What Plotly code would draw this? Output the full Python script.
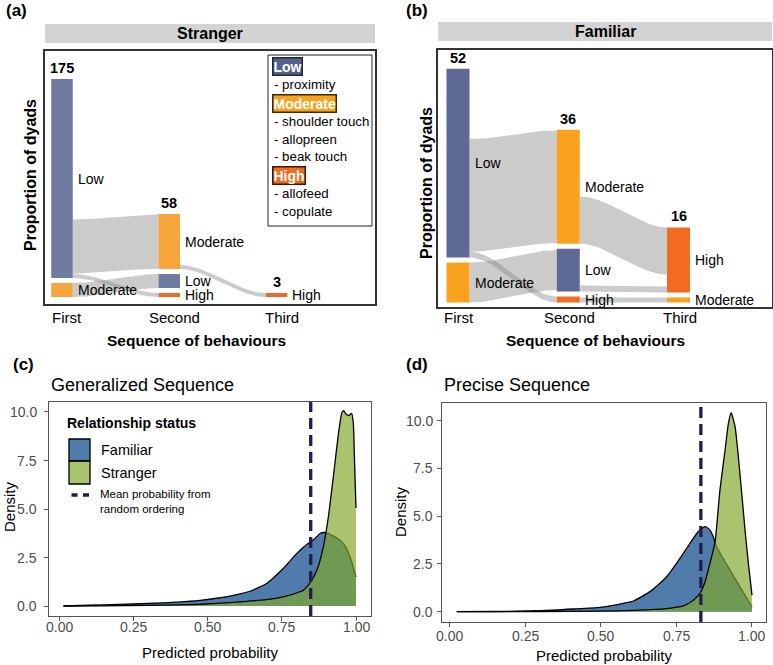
import numpy as np
import plotly.graph_objects as go

W, H = 773, 665
FONT = "Liberation Sans, Arial, sans-serif"

# ---------------- DATA ----------------
step_labels = ["First", "Second", "Third"]
x_title_alluvial = "Sequence of behaviours"
y_title_alluvial = "Proportion of dyads"

# Stranger alluvial (nodes listed bottom -> top within each step)
stranger_node_step = [1, 1, 2, 2, 2, 3]
stranger_node_level = ["Moderate", "Low", "High", "Low", "Moderate", "High"]
stranger_node_size = [12.3, 175.0, 3.5, 12.3, 48.4, 3.5]
stranger_flow_src = [1, 1, 0, 4]
stranger_flow_dst = [4, 2, 3, 5]
stranger_flow_size = [48.0, 3.5, 12.3, 3.5]
stranger_step_counts = ["175", "58", "3"]

# Familiar alluvial
familiar_node_step = [1, 1, 2, 2, 2, 3, 3]
familiar_node_level = ["Moderate", "Low", "High", "Low", "Moderate", "Moderate", "High"]
familiar_node_size = [11.0, 52.0, 1.65, 11.8, 31.4, 1.4, 17.9]
familiar_flow_src = [1, 1, 0, 4, 3, 2]
familiar_flow_dst = [4, 2, 3, 6, 6, 5]
familiar_flow_size = [31.0, 1.65, 11.0, 13.0, 1.65, 1.4]
familiar_step_counts = ["52", "36", "16"]

legend_levels = ["Low", "Moderate", "High"]
legend_behaviours = [["proximity"],
                     ["shoulder touch", "allopreen", "beak touch"],
                     ["allofeed", "copulate"]]

# Density curves - Generalized Sequence
gen_fam_x = [0.015, 0.1, 0.2, 0.3, 0.4, 0.475, 0.53, 0.587, 0.643, 0.699, 0.755, 0.8,
             0.834, 0.856, 0.879, 0.892, 0.907, 0.924, 0.945, 0.965, 0.98, 0.991, 1.0]
gen_fam_y = [0.0, 0.04, 0.08, 0.13, 0.2, 0.29, 0.4, 0.55, 0.76, 1.16, 1.93, 2.7,
             3.17, 3.4, 3.74, 3.79, 3.74, 3.6, 3.4, 3.05, 2.54, 2.0, 1.5]
gen_str_x = [0.015, 0.15, 0.3, 0.4, 0.475, 0.587, 0.699, 0.755, 0.8, 0.823, 0.845, 0.868,
             0.89, 0.907, 0.924, 0.941, 0.952, 0.958, 0.966, 0.975, 0.985, 0.991, 0.995, 1.0]
gen_str_y = [0.0, 0.01, 0.03, 0.06, 0.09, 0.19, 0.33, 0.47, 0.67, 0.81, 1.19, 1.84,
             3.05, 4.6, 6.7, 8.9, 9.95, 10.07, 9.9, 9.82, 9.93, 9.4, 7.5, 5.05]
gen_random_mean = 0.8475

# Density curves - Precise Sequence
pre_fam_x = [0.024, 0.15, 0.3, 0.41, 0.498, 0.575, 0.608, 0.663, 0.718, 0.762, 0.795,
             0.822, 0.845, 0.859, 0.872, 0.883, 1.0]
pre_fam_y = [0.0, 0.01, 0.05, 0.14, 0.23, 0.44, 0.56, 1.05, 1.83, 2.79, 3.58,
             4.19, 4.45, 4.31, 3.93, 3.4, 0.26]
pre_str_x = [0.024, 0.3, 0.4975, 0.608, 0.718, 0.773, 0.806, 0.828, 0.845, 0.861, 0.878,
             0.894, 0.911, 0.922, 0.931, 0.944, 0.955, 0.966, 0.977, 0.988, 1.0]
pre_str_y = [0.0, 0.01, 0.03, 0.07, 0.16, 0.3, 0.6, 0.96, 1.57, 2.53, 3.66,
             6.37, 8.46, 9.86, 10.42, 9.69, 8.1, 6.2, 4.28, 2.53, 0.87]
pre_random_mean = 0.831

x_ticks = [0.0, 0.25, 0.5, 0.75, 1.0]
y_ticks = [0.0, 2.5, 5.0, 7.5, 10.0]

density_series = ["Familiar", "Stranger"]
legend_title = "Relationship status"
legend_line_text = ["Mean probability from", "random ordering"]

# ---------------- STYLE ----------------
stranger_colors = {"Low": "#6e7a9e", "Moderate": "#f6a53c", "High": "#f0692a"}
familiar_colors = {"Low": "#5e6996", "Moderate": "#f9a21f", "High": "#f26b21"}
tag_style = {"Low": ("#55628c", "#20283c"), "Moderate": ("#f7a11d", "#3a2a10"),
             "High": ("#ee6b1f", "#3a1a08")}
FLOW = "rgba(140,140,140,0.45)"
BLUE = "#4f7caa"
GREEN = "rgba(128,166,42,0.68)"
NAVY = "#211d4e"

fig = go.Figure()
annotations = []
shapes = []


def P(xpx, ypx):
    return xpx / W, 1 - ypx / H


def ann(text, xpx, ypx, size, bold=False, color="black", xanchor="center",
        yanchor="middle", angle=0):
    x, y = P(xpx, ypx)
    annotations.append(dict(text=f"<b>{text}</b>" if bold else text, x=x, y=y,
                            xref="paper", yref="paper", showarrow=False,
                            xanchor=xanchor, yanchor=yanchor, textangle=angle,
                            font=dict(size=size, color=color, family=FONT)))


# panel pixel boxes: (x0, x1), (ytop, ybottom)
box = {
    "a": ((45, 375), (51, 304)),
    "b": ((438, 772), (50, 307)),
    "c": ((49, 371), (402, 616)),
    "d": ((442, 766), (403, 622)),
}
axis_ids = {"a": "", "b": "2", "c": "3", "d": "4"}

ranges = {
    "a": ([0.8415, 3.918], [-6.16, 216.4]),
    "b": ([0.8186, 3.848], [-1.24, 69.56]),
    "c": ([-0.0337, 1.0505], [-0.515, 10.515]),
    "d": ([-0.0248, 1.0463], [-0.54, 10.93]),
}
# tick label placement (pixels): x-label row centre, y-label right edge
tick_label_pos = {"c": (627, 39), "d": (636, 435)}

layout_axes = {}
for k, ((x0, x1), (yt, yb)) in box.items():
    i = axis_ids[k]
    xr, yr = ranges[k]
    dense = k in ("c", "d")
    common = dict(showgrid=False, zeroline=False, showline=True, mirror=True,
                  linecolor="#555" if dense else "#333",
                  linewidth=1 if dense else 1.5, fixedrange=True, showticklabels=False)
    xa = dict(domain=[x0 / W, x1 / W], range=xr, anchor="y" + i, **common)
    ya = dict(domain=[1 - yb / H, 1 - yt / H], range=yr, anchor="x" + i, **common)
    if dense:
        xa.update(tickmode="array", tickvals=x_ticks, ticks="outside",
                  ticklen=4, tickcolor="#555", tickwidth=1)
        ya.update(tickmode="array", tickvals=y_ticks, ticks="outside",
                  ticklen=4, tickcolor="#555", tickwidth=1)
        rowy, rightx = tick_label_pos[k]
        for v in x_ticks:
            annotations.append(dict(text=f"{v:.2f}", x=v, y=1 - rowy / H, xref="x" + i,
                                    yref="paper", xanchor="center", yanchor="middle",
                                    showarrow=False,
                                    font=dict(size=14, color="#4d4d4d", family=FONT)))
        for v in y_ticks:
            annotations.append(dict(text=f"{v:.1f}", x=rightx / W, y=v, xref="paper",
                                    yref="y" + i, xanchor="right", yanchor="middle",
                                    showarrow=False,
                                    font=dict(size=14, color="#4d4d4d", family=FONT)))
    else:
        xa.update(ticks="")
        ya.update(ticks="")
    layout_axes["xaxis" + i] = xa
    layout_axes["yaxis" + i] = ya


def add_alluvial(k, node_step, node_level, node_size, flow_src, flow_dst, flow_size,
                 counts, colors, bar_px=22, gap_px=5, tick_xshift=0):
    i = axis_ids[k]
    xa, ya = "x" + i, "y" + i
    (x0, x1), (yt, yb) = box[k]
    xr, yr = ranges[k]
    xs_ = (x1 - x0) / (xr[1] - xr[0])
    ys_ = (yb - yt) / (yr[1] - yr[0])
    bw = bar_px / xs_
    gap = gap_px / ys_
    n = len(node_step)
    y0 = [0.0] * n
    y1 = [0.0] * n
    for s in sorted(set(node_step)):
        cum = 0.0
        for j in range(n):
            if node_step[j] == s:
                y0[j] = cum
                y1[j] = cum + node_size[j]
                cum = y1[j] + gap
    nf = len(flow_src)
    fs0 = [0.0] * nf
    fd0 = [0.0] * nf
    for j in range(n):
        outs = sorted([f for f in range(nf) if flow_src[f] == j], key=lambda f: y0[flow_dst[f]])
        c = y0[j]
        for f in outs:
            fs0[f] = c
            c += flow_size[f]
        ins = sorted([f for f in range(nf) if flow_dst[f] == j], key=lambda f: y0[flow_src[f]])
        if len(ins) == 1:
            f = ins[0]
            fd0[f] = y0[j] + (node_size[j] - flow_size[f]) / 2
        elif ins:
            free = node_size[j] - sum(flow_size[f] for f in ins)
            sp = free / (len(ins) - 1)
            c = y0[j]
            for f in ins:
                fd0[f] = c
                c += flow_size[f] + sp
    t = np.linspace(0, 1, 90)
    sm = t * t * (3 - 2 * t)
    for f in range(nf):
        a = node_step[flow_src[f]] + bw / 2
        b = node_step[flow_dst[f]] - bw / 2
        xs = a + (b - a) * t
        lo = fs0[f] + (fd0[f] - fs0[f]) * sm
        hi = lo + flow_size[f]
        fig.add_trace(go.Scatter(x=np.concatenate([xs, xs[::-1]]),
                                 y=np.concatenate([hi, lo[::-1]]),
                                 fill="toself", fillcolor=FLOW, line=dict(width=0),
                                 mode="lines", hoverinfo="skip", showlegend=False,
                                 xaxis=xa, yaxis=ya))
    for j in range(n):
        s = node_step[j]
        fig.add_trace(go.Scatter(x=[s - bw / 2, s + bw / 2, s + bw / 2, s - bw / 2, s - bw / 2],
                                 y=[y0[j], y0[j], y1[j], y1[j], y0[j]],
                                 fill="toself", fillcolor=colors[node_level[j]],
                                 line=dict(width=0), mode="lines", hoverinfo="skip",
                                 showlegend=False, xaxis=xa, yaxis=ya))
        annotations.append(dict(text=node_level[j], x=s + bw / 2, y=(y0[j] + y1[j]) / 2,
                                xref=xa, yref=ya, xanchor="left", yanchor="middle",
                                xshift=3, showarrow=False,
                                font=dict(size=14, color="black", family=FONT)))
    for si, s in enumerate(sorted(set(node_step))):
        top = max(y1[j] for j in range(n) if node_step[j] == s)
        annotations.append(dict(text=f"<b>{counts[si]}</b>", x=s, y=top, xref=xa, yref=ya,
                                xanchor="center", yanchor="bottom", yshift=1, showarrow=False,
                                font=dict(size=14.5, color="black", family=FONT)))
    for si, lab in enumerate(step_labels):
        annotations.append(dict(text=lab, x=si + 1, y=1 - 317 / H, xref=xa, yref="paper",
                                xanchor="center", yanchor="middle", xshift=tick_xshift,
                                showarrow=False,
                                font=dict(size=15, color="black", family=FONT)))


add_alluvial("a", stranger_node_step, stranger_node_level, stranger_node_size,
             stranger_flow_src, stranger_flow_dst, stranger_flow_size,
             stranger_step_counts, stranger_colors, bar_px=21.5, tick_xshift=5)
add_alluvial("b", familiar_node_step, familiar_node_level, familiar_node_size,
             familiar_flow_src, familiar_flow_dst, familiar_flow_size,
             familiar_step_counts, familiar_colors, bar_px=23, tick_xshift=1)

# density panels
for k, fx, fy, sx, sy, m in (("c", gen_fam_x, gen_fam_y, gen_str_x, gen_str_y, gen_random_mean),
                              ("d", pre_fam_x, pre_fam_y, pre_str_x, pre_str_y, pre_random_mean)):
    i = axis_ids[k]
    fig.add_trace(go.Scatter(x=fx, y=fy, fill="tozeroy", fillcolor=BLUE, mode="lines",
                             line=dict(color="black", width=1.3, shape="spline", smoothing=0.5),
                             name=density_series[0], showlegend=False, hoverinfo="skip",
                             xaxis="x" + i, yaxis="y" + i))
    fig.add_trace(go.Scatter(x=sx, y=sy, fill="tozeroy", fillcolor=GREEN, mode="lines",
                             line=dict(color="black", width=1.3, shape="spline", smoothing=0.5),
                             name=density_series[1], showlegend=False, hoverinfo="skip",
                             xaxis="x" + i, yaxis="y" + i))
    shapes.append(dict(type="line", xref="x" + i, yref="y" + i + " domain", x0=m, x1=m,
                       y0=0, y1=1, line=dict(color=NAVY, width=3.3, dash="11px,6px"),
                       layer="above"))

# strips
for k, text, (yt, yb) in (("a", "Stranger", (24, 43)), ("b", "Familiar", (22, 41))):
    (x0, x1), _ = box[k]
    shapes.append(dict(type="rect", xref="paper", yref="paper", x0=x0 / W, x1=x1 / W,
                       y0=1 - yb / H, y1=1 - yt / H, fillcolor="#d3d3d3", line=dict(width=0)))
    ann(text, (x0 + x1) / 2, (yt + yb) / 2 + 0.5, 16, bold=True)

# legend box in (a)
shapes.append(dict(type="rect", xref="paper", yref="paper", x0=268 / W, x1=372 / W,
                   y0=1 - 226 / H, y1=1 - 55 / H, fillcolor="white",
                   line=dict(color="#222", width=1)))
ycur = 66.5
for lvl, items in zip(legend_levels, legend_behaviours):
    bg, bd = tag_style[lvl]
    x, y = P(272, ycur)
    annotations.append(dict(text=f"<b>{lvl}</b>", x=x, y=y, xref="paper", yref="paper",
                            xanchor="left", yanchor="middle", showarrow=False,
                            bgcolor=bg, bordercolor=bd, borderwidth=1.5, borderpad=0,
                            font=dict(size=14, color="white", family=FONT)))
    ycur += 18
    for it in items:
        ann("- " + it, 272, ycur, 13.3, xanchor="left")
        ycur += 17.7
    ycur += 1.3

# panel labels and titles
ann("(a)", 16, 11, 17, bold=True)
ann("(b)", 417, 10, 17, bold=True)
ann("(c)", 23, 364, 17, bold=True)
ann("(d)", 417, 364, 17, bold=True)
ann(y_title_alluvial, 31, 175, 16, bold=True, angle=-90)
ann(y_title_alluvial, 426, 183, 16, bold=True, angle=-90)
ann(x_title_alluvial, 196, 340, 15.5, bold=True)
ann(x_title_alluvial, 595, 340, 15.5, bold=True)

ann("Generalized Sequence", 49, 385, 18, xanchor="left")
ann("Precise Sequence", 442, 385, 18, xanchor="left")
ann("Density", 9, 507, 15, angle=-90)
ann("Density", 400, 512, 15, angle=-90)
ann("Predicted probability", 210, 652.5, 15)
ann("Predicted probability", 604, 655, 15)

# legend in (c)
ann(legend_title, 65, 423, 14, bold=True, xanchor="left")
for (ya0, ya1), col, lab in (((439, 461), BLUE, density_series[0]),
                             ((461, 484), GREEN, density_series[1])):
    shapes.append(dict(type="rect", xref="paper", yref="paper", x0=69 / W, x1=90 / W,
                       y0=1 - ya1 / H, y1=1 - ya0 / H, fillcolor=col,
                       line=dict(color="black", width=1.3)))
    ann(lab, 99, (ya0 + ya1) / 2, 14.5, xanchor="left")
shapes.append(dict(type="line", xref="paper", yref="paper", x0=71.5 / W, x1=91 / W,
                   y0=1 - 495 / H, y1=1 - 495 / H,
                   line=dict(color=NAVY, width=3.5, dash="6px,5.5px")))
ann(legend_line_text[0], 98, 494, 11.5, xanchor="left")
ann(legend_line_text[1], 98, 509, 11.5, xanchor="left")

fig.update_layout(width=W, height=H, autosize=False,
                  margin=dict(l=0, r=0, t=0, b=0),
                  paper_bgcolor="white", plot_bgcolor="white",
                  showlegend=False, annotations=annotations, shapes=shapes,
                  font=dict(family=FONT), **layout_axes)

fig.write_html("out.html")
